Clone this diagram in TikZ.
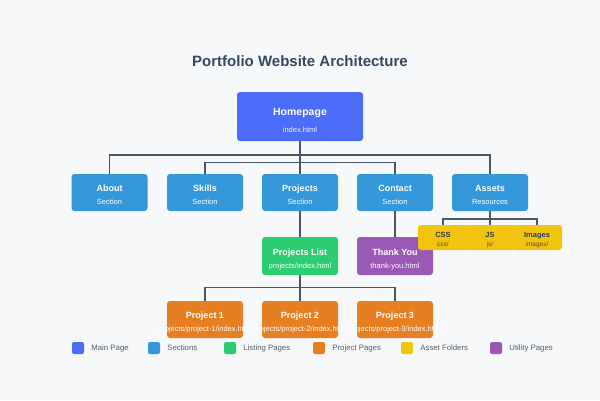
\documentclass[tikz,border=0pt]{standalone}
\usepackage{fontspec}
\setmainfont{Liberation Sans}

\definecolor{bgcol}{HTML}{F7F8FA}
\definecolor{titlecol}{HTML}{34495E}
\definecolor{linecol}{HTML}{4A5568}
\definecolor{mainblue}{HTML}{4A6CF7}
\definecolor{secblue}{HTML}{3498DB}
\definecolor{listgreen}{HTML}{2ECC71}
\definecolor{projorange}{HTML}{E67E22}
\definecolor{assetyellow}{HTML}{F1C40F}
\definecolor{utilpurple}{HTML}{9B59B6}
\definecolor{darktext}{HTML}{2C3E50}
\definecolor{subdark}{HTML}{5A5030}
\definecolor{legendtext}{HTML}{555E68}

% box with a bold title line and a smaller second line
% #1 name, #2 x, #3 y, #4 width, #5 height, #6 fill, #7 title, #8 subtitle
\newcommand\archbox[8]{%
  \node[pagebox, fill=#6, minimum width=#4pt, minimum height=#5pt] (#1) at (#2,#3) {};
  \node[boxtitle] (#1-t) at ([yshift=3.5pt]#1.center) {#7};
  \node[boxsub] (#1-s) at ([yshift=-10pt]#1.center) {#8};
}
% small yellow folder box with dark text
\newcommand\folderbox[4]{%
  \node[pagebox, fill=assetyellow, minimum width=50pt, minimum height=25pt] (#1) at (#2,237.5) {};
  \node[foldertitle] (#1-t) at ([yshift=2.5pt]#1.center) {#3};
  \node[foldersub] (#1-s) at ([yshift=-6.5pt]#1.center) {#4};
}
% legend swatch and caption
\newcommand\legenditem[4]{%
  \node[swatch, fill=#3] (#1) at (#2,348) {};
  \node[legendlabel] (#1-l) at ([xshift=7pt]#1.east) {#4};
}

\begin{document}
\begin{tikzpicture}[x=1pt, y=-1pt,
  pagebox/.style={draw=none, rounded corners=3pt, inner sep=0pt},
  boxtitle/.style={inner sep=0pt, text=white, text height=6.5pt, text depth=1.5pt, font=\fontsize{9}{10}\selectfont\bfseries},
  boxsub/.style={inner sep=0pt, text=white, text height=5.5pt, text depth=1.2pt, font=\fontsize{7.5}{9}\selectfont},
  foldertitle/.style={inner sep=0pt, text=darktext, text height=5.5pt, text depth=1.2pt, font=\fontsize{7.5}{9}\selectfont\bfseries},
  foldersub/.style={inner sep=0pt, text=subdark, text height=5pt, text depth=1pt, font=\fontsize{6.5}{8}\selectfont},
  conn/.style={draw=linecol, line width=1.5pt},
  swatch/.style={rounded corners=2pt, minimum width=12pt, minimum height=12pt, inner sep=0pt},
  legendlabel/.style={anchor=west, inner sep=0pt, text=legendtext, text height=5.5pt, text depth=1.5pt, font=\fontsize{7.8}{9}\selectfont}
]
\fill[bgcol] (0,0) rectangle (600,400);
\useasboundingbox (0,0) rectangle (600,400);

% title
\node[inner sep=0pt, text=titlecol, font=\fontsize{15}{18}\selectfont\bfseries] (title) at (300,61) {Portfolio Website Architecture};

% bus levels for the connectors
\coordinate (busA) at (0,155);
\coordinate (busB) at (0,162.5);
\coordinate (busC) at (0,219);
\coordinate (busD) at (0,287.5);

% node positions (boxes are drawn after the connectors)
\path (300,116.5) coordinate (homeC)
      (109.5,192.5) coordinate (aboutC)
      (205,192.5) coordinate (skillsC)
      (300,192.5) coordinate (projectsC)
      (395,192.5) coordinate (contactC)
      (490,192.5) coordinate (assetsC)
      (300,256) coordinate (plistC)
      (395,256) coordinate (thanksC)
      (205,319.5) coordinate (p1C)
      (300,319.5) coordinate (p2C)
      (395,319.5) coordinate (p3C)
      (443,225) coordinate (cssN)
      (490,225) coordinate (jsN)
      (537,225) coordinate (imgN);

% connectors
\draw[conn] (300,141) -- (homeC |- busA) -| (109.5,174);
\draw[conn] (homeC |- busA) -| (490,174);
\draw[conn] (homeC |- busB) -| (205,174);
\draw[conn] (homeC |- busB) -| (395,174);
\draw[conn] (300,141) -- (300,174);
\draw[conn] (300,211) -- (300,237);
\draw[conn] (395,211) -- (395,237);
\draw[conn] (490,211) -- (assetsC |- busC) -| (cssN);
\draw[conn] (assetsC |- busC) -| (imgN);
\draw[conn] (assetsC |- busC) -- (jsN);
\draw[conn] (300,275) -- (plistC |- busD) -| (205,301);
\draw[conn] (plistC |- busD) -| (395,301);
\draw[conn] (plistC |- busD) -- (300,301);

% main page
\node[pagebox, fill=mainblue, minimum width=126pt, minimum height=49pt] (home) at (homeC) {};
\node[inner sep=0pt, text=white, font=\fontsize{10.5}{12}\selectfont\bfseries] (home-t) at ([yshift=3.5pt]home.center) {Homepage};
\node[inner sep=0pt, text=white!92!mainblue, font=\fontsize{7.5}{9}\selectfont] (home-s) at ([yshift=-13.5pt]home.center) {index.html};

% sections
\archbox{about}{109.5}{192.5}{76}{37}{secblue}{About}{Section}
\archbox{skills}{205}{192.5}{76}{37}{secblue}{Skills}{Section}
\archbox{projects}{300}{192.5}{76}{37}{secblue}{Projects}{Section}
\archbox{contact}{395}{192.5}{76}{37}{secblue}{Contact}{Section}
\archbox{assets}{490}{192.5}{76}{37}{secblue}{Assets}{Resources}

% listing and utility pages
\archbox{plist}{300}{256}{76}{38}{listgreen}{Projects List}{projects/index.html}
\archbox{thanks}{395}{256}{76}{38}{utilpurple}{Thank You}{thank-you.html}

% asset folders
\folderbox{css}{443}{CSS}{css/}
\folderbox{js}{490}{JS}{js/}
\folderbox{img}{537}{Images}{images/}

% project pages
\archbox{p1}{205}{319.5}{76}{37}{projorange}{Project 1}{projects/project-1/index.html}
\archbox{p2}{300}{319.5}{76}{37}{projorange}{Project 2}{projects/project-2/index.html}
\archbox{p3}{395}{319.5}{76}{37}{projorange}{Project 3}{projects/project-3/index.html}

% legend
\legenditem{lg1}{78}{mainblue}{Main Page}
\legenditem{lg2}{154}{secblue}{Sections}
\legenditem{lg3}{230}{listgreen}{Listing Pages}
\legenditem{lg4}{319}{projorange}{Project Pages}
\legenditem{lg5}{407}{assetyellow}{Asset Folders}
\legenditem{lg6}{496}{utilpurple}{Utility Pages}
\end{tikzpicture}
\end{document}
